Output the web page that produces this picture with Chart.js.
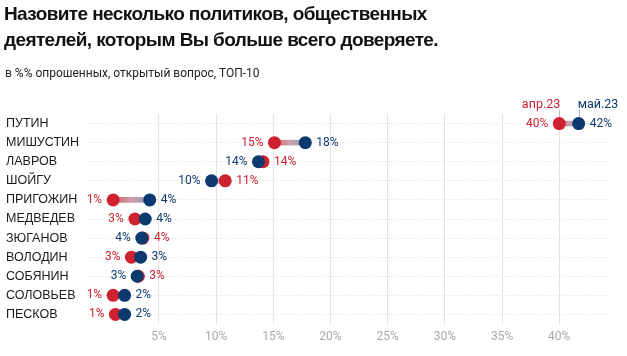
<!DOCTYPE html>
<html><head><meta charset="utf-8">
<script src="https://cdn.jsdelivr.net/npm/chart.js@4/dist/chart.umd.min.js"></script>
<style>
html,body{margin:0;padding:0;background:#fff;}
#wrap{position:relative;width:627px;height:356px;overflow:hidden;}
#title{position:absolute;left:4px;top:1px;font:bold 19px "Liberation Sans",Arial,sans-serif;line-height:26px;color:#111;letter-spacing:-0.6px;}
#sub{position:absolute;left:5px;top:66px;font:12px Roboto,sans-serif;color:#222;}
#cv{position:absolute;left:0;top:0;}
</style></head><body>
<div id="wrap">
<canvas id="cv" width="627" height="356"></canvas>
<div id="title">Назовите несколько политиков, общественных<br>деятелей, которым Вы больше всего доверяете.</div>
<div id="sub">в %% опрошенных, открытый вопрос, ТОП-10</div>
</div>
<script>
const categories = ["ПУТИН","МИШУСТИН","ЛАВРОВ","ШОЙГУ","ПРИГОЖИН","МЕДВЕДЕВ","ЗЮГАНОВ","ВОЛОДИН","СОБЯНИН","СОЛОВЬЕВ","ПЕСКОВ"];
const seriesNames = ["апр.23","май.23"];
const apr23 = [40.0,15.1,14.1,10.8,1.0,2.9,3.6,2.6,3.2,1.0,1.2];
const may23 = [41.7,17.8,13.7,9.6,4.2,3.8,3.5,3.4,3.1,2.0,2.0];
const xTicks = [5,10,15,20,25,30,35,40];

const RED = '#cf2230', BLUE = '#0c3a6f';

const labelsPlugin = {
  id: 'dumbLabels',
  afterDatasetsDraw(chart) {
    const c = chart.ctx;
    const mr = chart.getDatasetMeta(1), mb = chart.getDatasetMeta(2);
    c.save();
    c.font = '12px Roboto, sans-serif';
    c.textBaseline = 'middle';
    const off = 11;
    categories.forEach((cat, i) => {
      const pr = mr.data[i], pb = mb.data[i];
      const y = pr.y;
      const lr = Math.round(apr23[i]) + '%', lb = Math.round(may23[i]) + '%';
      if (apr23[i] <= may23[i]) {
        c.fillStyle = RED; c.textAlign = 'right'; c.fillText(lr, pr.x - off, y);
        c.fillStyle = BLUE; c.textAlign = 'left'; c.fillText(lb, pb.x + off, y);
      } else {
        c.fillStyle = BLUE; c.textAlign = 'right'; c.fillText(lb, pb.x - off, y);
        c.fillStyle = RED; c.textAlign = 'left'; c.fillText(lr, pr.x + off, y);
      }
    });
    // series legend above first row
    const y0 = mr.data[0].y;
    [[mr.data[0].x, seriesNames[0], RED, 'right'], [mb.data[0].x, seriesNames[1], BLUE, 'left']].forEach(([x, t, col, al]) => {
      c.strokeStyle = '#bbbbbb'; c.lineWidth = 1;
      c.beginPath(); c.moveTo(Math.round(x) + 0.5, y0 - 14); c.lineTo(Math.round(x) + 0.5, y0 - 7); c.stroke();
      c.fillStyle = col; c.textAlign = al; c.textBaseline = 'alphabetic';
      c.font = '12.5px Roboto, sans-serif';
      c.fillText(t, al === 'right' ? x + 1 : x - 1, y0 - 16);
    });
    c.restore();
  }
};

new Chart(document.getElementById('cv'), {
  type: 'bar',
  data: {
    labels: categories,
    datasets: [
      {
        type: 'bar', indexAxis: 'y', order: 2,
        data: categories.map((c, i) => [apr23[i], may23[i]]),
        barThickness: 5, borderWidth: 0, borderSkipped: false,
        backgroundColor: (ctx) => {
          const chart = ctx.chart;
          if (!chart.chartArea || !ctx.raw) return 'rgba(200,150,160,0.7)';
          const sx = chart.scales.x;
          const x0 = sx.getPixelForValue(ctx.raw[0]), x1 = sx.getPixelForValue(ctx.raw[1]);
          if (Math.abs(x1 - x0) < 1) return 'rgba(200,150,160,0.7)';
          const g = chart.ctx.createLinearGradient(x0, 0, x1, 0);
          g.addColorStop(0, '#d65a64');
          g.addColorStop(0.5, '#caa4ad');
          g.addColorStop(1, '#8e97b0');
          return g;
        }
      },
      {
        type: 'line', indexAxis: 'y', order: 1, label: seriesNames[0],
        data: apr23, showLine: false,
        pointRadius: 6.5, pointHoverRadius: 6.5, pointBorderWidth: 0,
        pointBackgroundColor: RED, borderColor: RED, backgroundColor: RED
      },
      {
        type: 'line', indexAxis: 'y', order: 0, label: seriesNames[1],
        data: may23, showLine: false,
        pointRadius: 6.5, pointHoverRadius: 6.5, pointBorderWidth: 0,
        pointBackgroundColor: BLUE, borderColor: BLUE, backgroundColor: BLUE
      }
    ]
  },
  options: {
    indexAxis: 'y',
    responsive: false,
    animation: false,
    events: [],
    layout: { padding: { left: 6, right: 14, top: 114, bottom: 0 } },
    plugins: { legend: { display: false }, tooltip: { enabled: false }, title: { display: false } },
    scales: {
      x: {
        type: 'linear', min: -1.2, max: 44.7,
        afterBuildTicks: (s) => { s.ticks = xTicks.map(v => ({ value: v })); },
        afterFit: (s) => { s.height = 32; },
        grid: { color: '#e3e3e3', lineWidth: 1, drawTicks: false },
        border: { display: false },
        ticks: { padding: 6, color: '#a9a9a9', font: { family: 'Roboto', size: 12 }, callback: (v) => v + '%' }
      },
      y: {
        type: 'category', offset: true,
        afterFit: (s) => { s.width = 82; },
        grid: { offset: false, color: '#dddddd', lineWidth: 1, drawTicks: false },
        border: { display: false, dash: [1, 2] },
        ticks: { crossAlign: 'far', color: '#1a1a1a', font: { family: 'Liberation Sans', size: 12.5 }, padding: 0 }
      }
    }
  },
  plugins: [labelsPlugin]
});
</script>
</body></html>
